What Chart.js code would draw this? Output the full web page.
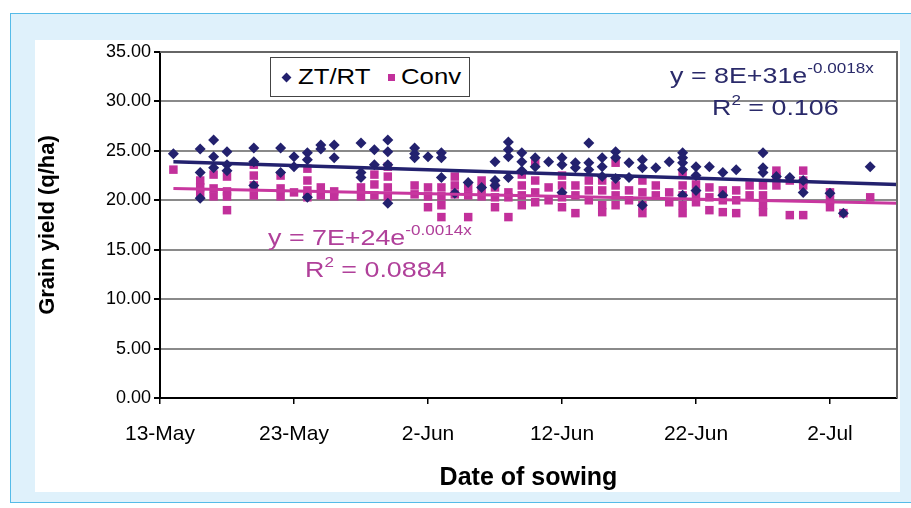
<!DOCTYPE html>
<html>
<head>
<meta charset="utf-8">
<script src="https://cdn.jsdelivr.net/npm/chart.js@4"></script>
<style>
  body { margin: 0; background: #fff; font-family: "Liberation Sans", Arial, sans-serif; }
  #panel { position: absolute; left: 10px; top: 13px; width: 930px; height: 488px; background: #dff1fb; border: 1.5px solid #55bbe8; }
  #sheet { position: absolute; left: 35px; top: 40px; width: 865px; height: 452px; background: #fff; }
  #wrap { position: absolute; left: 0; top: 0; width: 911px; height: 508px; }
  .legend { position: absolute; left: 270px; top: 57px; width: 198px; height: 38px; border: 1px solid #444; background: #fff; }
  .legend span { position: absolute; top: 0; line-height: 38px; font-size: 22px; transform: scaleX(1.17); transform-origin: left center; white-space: nowrap; }
  .legend i { position: absolute; width: 7px; height: 7px; top: 16px; }
  .eq { position: absolute; font-size: 22px; white-space: nowrap; transform: scaleX(1.22); transform-origin: left center; }
  .eq sup { font-size: 14px; vertical-align: 10px; line-height: 0; }
</style>
</head>
<body>
<div id="panel"></div>
<div id="sheet"></div>
<div id="wrap"><canvas id="myChart" width="911" height="508"></canvas></div>
<div class="legend">
  <i style="left:12px;background:#23216e;transform:rotate(45deg)"></i><span style="left:27px">ZT/RT</span>
  <i style="left:117px;background:#c2309b"></i><span style="left:130px">Conv</span>
</div>
<div class="eq" style="left:670px;top:63px;color:#2a2a6a">y = 8E+31e<sup>-0.0018x</sup></div>
<div class="eq" style="left:712px;top:95px;color:#2a2a6a">R<sup>2</sup> = 0.106</div>
<div class="eq" style="left:268px;top:225px;color:#b0409a">y = 7E+24e<sup>-0.0014x</sup></div>
<div class="eq" style="left:305px;top:257px;color:#b0409a">R<sup>2</sup> = 0.0884</div>
<script>
// days after 13-May
const xTickLabels = ['13-May', '23-May', '2-Jun', '12-Jun', '22-Jun', '2-Jul'];

const ztDay = [1, 3, 3, 3, 4, 4, 4, 5, 5, 5, 7, 7, 7, 9, 9, 10, 10, 11, 11, 11,
  12, 12, 13, 13, 15, 15, 15, 16, 16, 17, 17, 17, 17, 19, 19, 19, 20, 21, 21, 21,
  22, 23, 24, 25, 25, 25, 26, 26, 26, 26, 27, 27, 27, 28, 28, 29, 30, 30, 30, 31, 31,
  32, 32, 32, 33, 33, 33, 34, 34, 34, 35, 35, 36, 36, 36, 37, 38, 39, 39, 39, 39, 39,
  40, 40, 40, 41, 42, 42, 43, 45, 45, 45, 46, 47, 48, 48, 50, 51, 53];
const ztYield = [24.7, 25.2, 22.8, 20.2, 26.1, 24.4, 23.3, 24.9, 23.6, 23.0, 25.3, 23.9, 21.5, 25.3, 22.8, 24.4, 23.4, 24.8, 24.1, 20.3,
  25.6, 25.2, 25.6, 24.3, 25.8, 22.8, 22.3, 25.1, 23.6, 26.1, 24.9, 23.6, 19.7, 25.3, 24.7, 24.3, 24.4, 24.8, 24.3, 22.3,
  20.7, 21.8, 21.3, 23.9, 22.0, 21.5, 25.9, 25.1, 24.4, 22.3, 24.8, 23.9, 23.0, 24.3, 23.4, 23.9, 24.3, 23.6, 20.8, 23.8, 23.3,
  25.8, 23.8, 23.1, 24.3, 23.4, 22.4, 24.9, 24.3, 22.2, 23.8, 22.3, 24.1, 23.3, 19.5, 23.3, 23.9, 24.8, 24.3, 23.8, 23.1, 20.5,
  23.4, 22.5, 21.0, 23.4, 22.8, 20.5, 23.1, 24.8, 23.3, 22.8, 22.4, 22.3, 22.0, 20.8, 20.7, 18.7, 23.4];

const convDay = [1, 3, 3, 3, 4, 4, 4, 5, 5, 5, 5, 7, 7, 7, 7, 9, 9, 9, 10, 11, 11, 11, 11,
  12, 12, 13, 13, 15, 15, 16, 16, 16, 17, 17, 17, 17, 19, 19, 20, 20, 20, 21, 21, 21, 21,
  22, 22, 22, 23, 23, 23, 24, 24, 24, 25, 25, 25, 26, 26, 26, 27, 27, 27, 27, 28, 28, 28, 28,
  29, 29, 30, 30, 30, 30, 31, 31, 31, 32, 32, 32, 33, 33, 33, 33, 34, 34, 34, 34, 35, 35,
  36, 36, 36, 36, 37, 37, 38, 38, 39, 39, 39, 39, 39, 40, 40, 40, 41, 41, 41, 42, 42, 42,
  43, 43, 43, 44, 44, 45, 45, 45, 45, 46, 46, 46, 47, 47, 48, 48, 48, 48, 50, 50, 50, 51, 53];
const convYield = [23.1, 22.0, 21.3, 20.6, 22.6, 21.2, 20.4, 22.4, 20.9, 20.4, 19.0, 23.6, 22.5, 21.5, 20.5, 22.5, 21.2, 20.4, 20.8, 23.2, 22.0, 21.0, 20.3,
  21.3, 20.5, 20.9, 20.4, 21.3, 20.4, 22.6, 21.6, 20.5, 23.4, 22.4, 21.3, 20.4, 21.5, 20.6, 21.3, 20.4, 19.3, 21.3, 20.4, 19.5, 18.3,
  22.4, 21.5, 20.6, 21.3, 20.5, 18.3, 22.0, 21.2, 20.4, 21.3, 20.3, 19.3, 20.8, 20.3, 18.3, 22.6, 21.5, 20.5, 19.5, 23.8, 22.0, 20.8, 19.8,
  21.3, 20.0, 22.5, 21.5, 20.3, 19.3, 21.5, 20.5, 18.7, 22.0, 21.0, 20.0, 22.0, 21.0, 19.5, 18.8, 23.8, 21.5, 20.5, 19.5, 21.0, 20.0,
  22.0, 20.8, 19.5, 18.7, 21.5, 20.5, 20.8, 19.8, 22.6, 21.5, 20.5, 19.5, 18.7, 21.6, 20.5, 19.8, 21.3, 20.3, 19.0, 21.0, 20.0, 18.8,
  21.0, 20.0, 18.7, 21.5, 20.5, 21.5, 20.5, 19.5, 18.8, 23.0, 22.4, 21.5, 22.0, 18.5, 23.0, 22.0, 21.5, 18.5, 20.8, 20.0, 19.3, 18.7, 20.3];

// trend lines (start / end)
const ztTrendDay = [1, 55];
const ztTrendYield = [23.9, 21.6];
const convTrendDay = [1, 55];
const convTrendYield = [21.2, 19.7];

const NAVY = '#23216e';
const PINK = '#c2309b';

const pairs = (xs, ys) => xs.map((x, i) => ({ x: x, y: ys[i] }));

const plotFrame = {
  id: 'plotFrame',
  afterDatasetsDraw(chart) {
    const { ctx, chartArea } = chart;
    ctx.save();
    ctx.strokeStyle = '#666';
    ctx.lineWidth = 2;
    ctx.beginPath();
    ctx.moveTo(chartArea.left, chartArea.top);
    ctx.lineTo(chartArea.right, chartArea.top);
    ctx.lineTo(chartArea.right, chartArea.bottom);
    ctx.stroke();
    ctx.restore();
  }
};

new Chart(document.getElementById('myChart').getContext('2d'), {
  type: 'scatter',
  data: {
    datasets: [
      { label: 'ZT/RT trend', type: 'line', data: pairs(ztTrendDay, ztTrendYield), borderColor: NAVY, borderWidth: 3.5, pointRadius: 0, order: 0 },
      { label: 'Conv trend', type: 'line', data: pairs(convTrendDay, convTrendYield), borderColor: '#c8379f', borderWidth: 3, pointRadius: 0, order: 0 },
      { label: 'ZT/RT', data: pairs(ztDay, ztYield), pointStyle: 'rectRot', pointRadius: 5.5, backgroundColor: NAVY, borderWidth: 0, order: 1 },
      { label: 'Conv', data: pairs(convDay, convYield), pointStyle: 'rect', pointRadius: 6, backgroundColor: PINK, borderWidth: 0, order: 2 }
    ]
  },
  options: {
    responsive: false,
    animation: false,
    layout: { padding: { top: 52, right: 14, left: 0, bottom: 0 } },
    plugins: { legend: { display: false }, tooltip: { enabled: false } },
    scales: {
      x: {
        type: 'linear', min: 0, max: 55,
        afterFit: s => { s.height = 110; },
        afterBuildTicks: s => { s.ticks = xTickLabels.map((t, i) => ({ value: i * 10 })); },
        ticks: { callback: (v, i) => xTickLabels[i], color: '#000', font: { size: 21, family: 'Liberation Sans' }, padding: 18, maxRotation: 0 },
        grid: { drawOnChartArea: false, drawTicks: true, tickLength: 6, color: '#000', lineWidth: 1.5 },
        border: { color: '#000', width: 2 },
        title: { display: true, text: 'Date of sowing', color: '#000', font: { size: 25, weight: 'bold', family: 'Liberation Sans' }, padding: { top: 0, bottom: 15 } }
      },
      y: {
        min: 0, max: 35,
        afterFit: s => { s.width = 160; },
        ticks: { stepSize: 5, callback: v => v.toFixed(2), color: '#000', font: { size: 18, family: 'Liberation Sans' }, padding: 3 },
        grid: { color: c => (c.tick.value === 0 ? '#000' : '#8a8a8a'), lineWidth: 2, tickLength: 6, tickColor: '#000' },
        border: { color: '#000', width: 2 },
        title: { display: true, text: 'Grain yield (q/ha)', color: '#000', font: { size: 22, weight: 'bold', family: 'Liberation Sans' }, padding: { top: 35, bottom: 0 } }
      }
    }
  },
  plugins: [plotFrame]
});
</script>
</body>
</html>
